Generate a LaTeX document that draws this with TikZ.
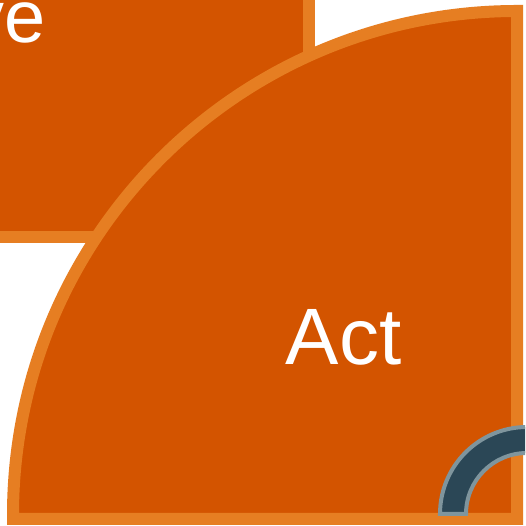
\documentclass[tikz,border=0pt]{standalone}
\usepackage{fontspec}
\setmainfont{Liberation Sans}
\definecolor{pumpkin}{HTML}{D35400}
\definecolor{carrot}{HTML}{E67E22}
\definecolor{slate}{HTML}{2B4756}
\definecolor{slategrey}{HTML}{7F959D}
\tikzset{
  segment/.style={fill=pumpkin, draw=carrot, line width=12pt, line join=miter},
  ringseg/.style={fill=slate, draw=slategrey, line width=4pt},
  label/.style={text=white, inner sep=0pt, font=\fontsize{80}{96}\selectfont}
}
\begin{document}
\begin{tikzpicture}[x=1pt,y=1pt]
\useasboundingbox (0,0) rectangle (525,526);
\clip (0,0) rectangle (525,526);
\fill[white] (0,0) rectangle (525,526);
% upper-left segment
\draw[segment] (-30,560) rectangle (309,289);
\node[label, anchor=base east, font=\fontsize{74}{88}\selectfont] (ve) at (46,483) {ve};
% quarter wedge
\draw[segment] (517,7) -- (13,7) -- (13,11) arc[start angle=180, end angle=90, radius=504] -- cycle;
\node[label, anchor=base] (act) at (343.5,161) {Act};
% inner ring
\draw[ringseg] (440,12) arc[start angle=180, end angle=0, radius=87] -- (588,12) arc[start angle=0, end angle=180, radius=61] -- cycle;
\end{tikzpicture}
\end{document}
